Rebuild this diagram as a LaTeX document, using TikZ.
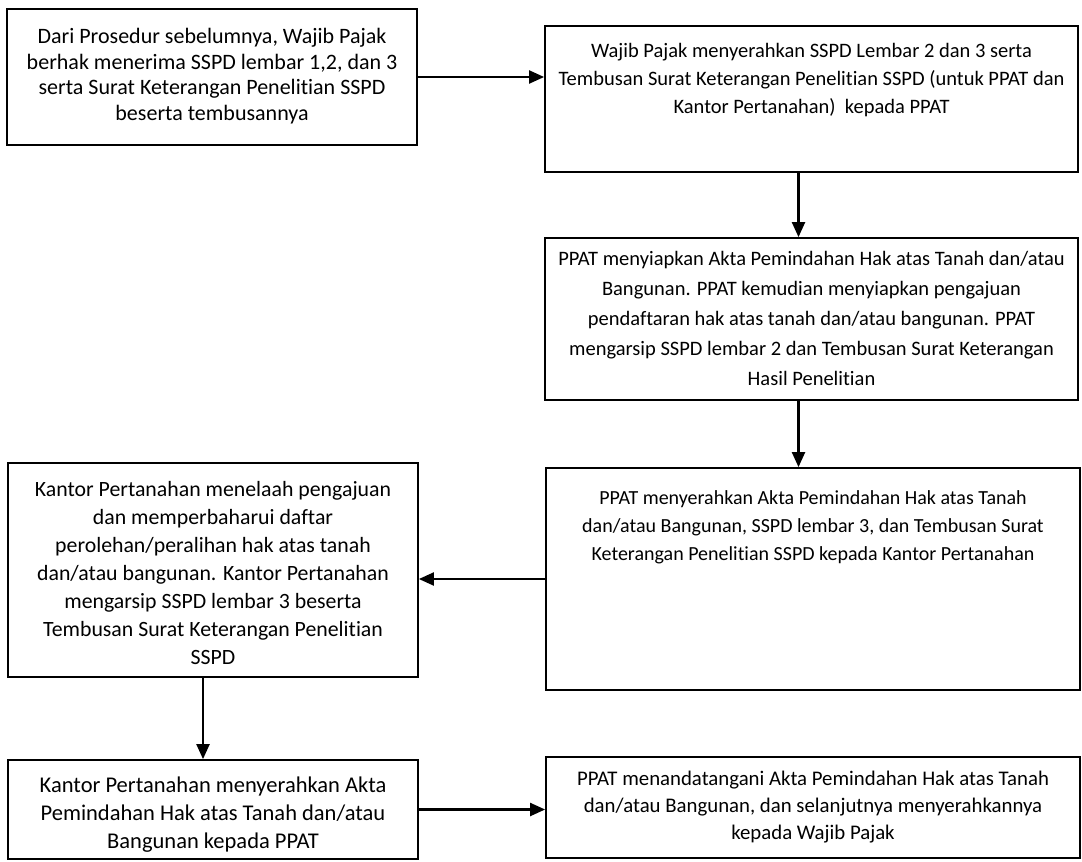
\documentclass[tikz,border=0pt]{standalone}
\usepackage{fontspec}
\setmainfont{Carlito}[Ligatures={NoCommon}]
\usetikzlibrary{arrows.meta,calc}
\begin{document}
\begin{tikzpicture}[x=1pt,y=-1pt,
  box/.style={draw, line width=1.8pt, rectangle, inner sep=0pt},
  txt/.style 2 args={align=center, inner sep=0pt, font=\fontsize{#1}{#2}\selectfont},
  flow/.style={line width=2.2pt, -{Triangle[length=15pt,width=13pt]}}]
\useasboundingbox (0,0) rectangle (1082,862);

% step boxes
\node[box, minimum width=410pt, minimum height=136pt] (b1) at (212,77) {};
\node[box, minimum width=533pt, minimum height=146pt] (b2) at (811.5,99) {};
\node[box, minimum width=533pt, minimum height=162pt] (b3) at (811.5,319) {};
\node[box, minimum width=534pt, minimum height=222pt] (b4) at (813,579) {};
\node[box, minimum width=410pt, minimum height=214pt] (b5) at (213,570) {};
\node[box, minimum width=410pt, minimum height=99pt] (b6) at (213,809.5) {};
\node[box, minimum width=534pt, minimum height=101pt] (b7) at (813,807.5) {};

% texts
\node[txt={22}{25.5}] (t1) at (212,76) {Dari Prosedur sebelumnya, Wajib Pajak\\berhak menerima SSPD lembar 1,2, dan 3\\serta Surat Keterangan Penelitian SSPD\\beserta tembusannya};
\node[txt={20.5}{28}] (t2) at (811.5,80) {Wajib Pajak menyerahkan SSPD Lembar 2 dan 3 serta\\Tembusan Surat Keterangan Penelitian SSPD (untuk PPAT dan\\Kantor Pertanahan)\ \ kepada PPAT};
\node[txt={20.5}{30}] (t3) at (811.5,318) {PPAT menyiapkan Akta Pemindahan Hak atas Tanah dan/atau\\Bangunan. PPAT kemudian menyiapkan pengajuan\\pendaftaran hak atas tanah dan/atau bangunan. PPAT\\mengarsip SSPD lembar 2 dan Tembusan Surat Keterangan\\Hasil Penelitian};
\node[txt={20}{28}] (t4) at (813,527) {PPAT menyerahkan Akta Pemindahan Hak atas Tanah\\dan/atau Bangunan, SSPD lembar 3, dan Tembusan Surat\\Keterangan Penelitian SSPD kepada Kantor Pertanahan};
\node[txt={21.8}{28}] (t5) at (213,573) {Kantor Pertanahan menelaah pengajuan\\dan memperbaharui daftar\\perolehan/peralihan hak atas tanah\\dan/atau bangunan. Kantor Pertanahan\\mengarsip SSPD lembar 3 beserta\\Tembusan Surat Keterangan Penelitian\\SSPD};
\node[txt={22.5}{28}] (t6) at (213,815) {Kantor Pertanahan menyerahkan Akta\\Pemindahan Hak atas Tanah dan/atau\\Bangunan kepada PPAT};
\node[txt={20.8}{27}] (t7) at (813,807) {PPAT menandatangani Akta Pemindahan Hak atas Tanah\\dan/atau Bangunan, dan selanjutnya menyerahkannya\\kepada Wajib Pajak};

% connectors
\draw[flow] (b1.east) -- (b1.east -| b2.west);
\draw[flow] ([xshift=-13pt]b2.south) -- ([xshift=-13pt]b2.south |- b3.north);
\draw[flow] ([xshift=-13pt]b3.south) -- ([xshift=-13pt]b3.south |- b4.north);
\draw[flow] (b4.west) -- (b4.west -| b5.east);
\draw[flow] ([xshift=-10pt]b5.south) -- ([xshift=-10pt]b5.south |- b6.north);
\draw[flow] (b6.east) -- (b6.east -| b7.west);
\end{tikzpicture}
\end{document}
